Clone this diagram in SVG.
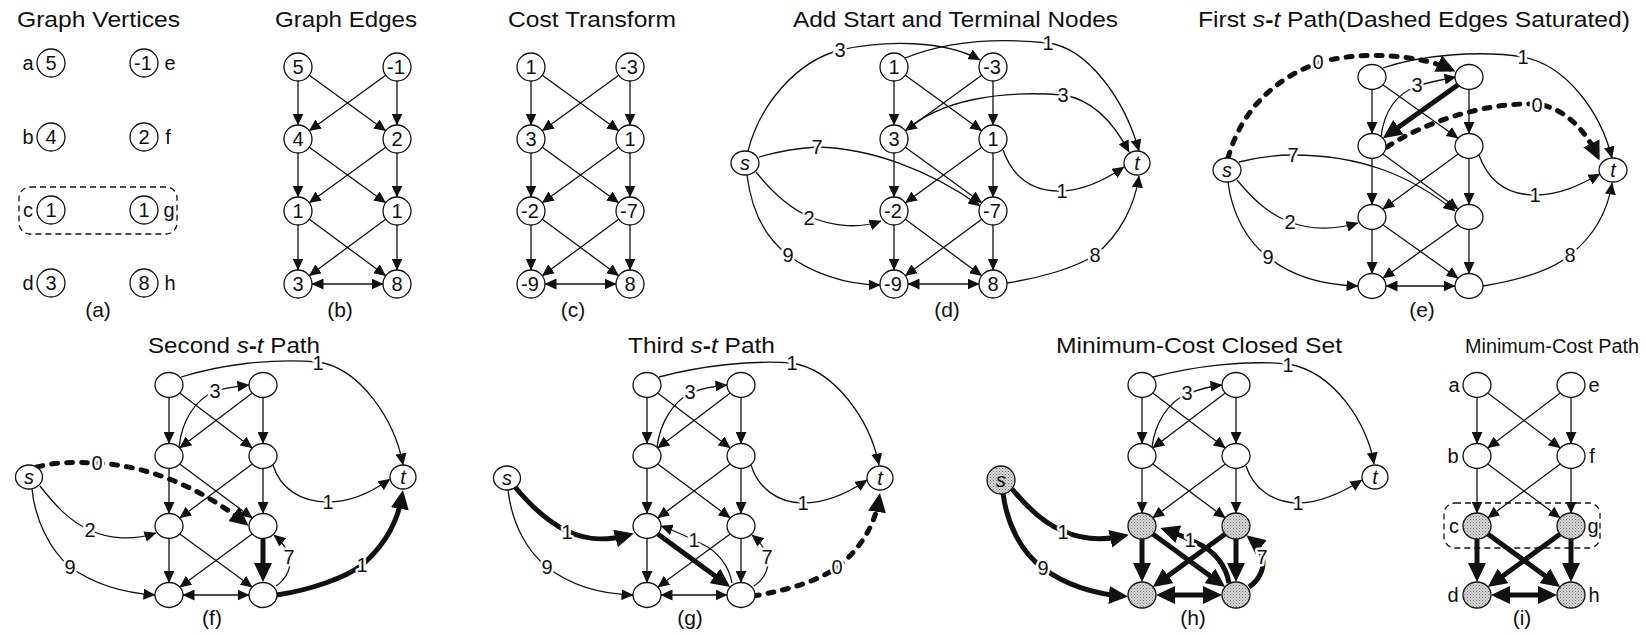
<svg xmlns="http://www.w3.org/2000/svg" width="1646" height="635" viewBox="0 0 1646 635">
<defs>
<style>
text{font-family:"Liberation Sans",Arial,sans-serif;fill:#111}
.ti{font-size:21.5px}
.pl{font-size:21px;text-anchor:middle}
.v{font-size:20px;text-anchor:middle}
.it{font-style:italic}
.el{font-size:20px;text-anchor:middle;stroke:#fff;stroke-width:5px;paint-order:stroke;stroke-linejoin:round}
.n{fill:#fff;stroke:#111;stroke-width:1.3}
.sh{fill:url(#dots);stroke:#111;stroke-width:1.3}
.e{fill:none;stroke:#111;stroke-width:1.3;marker-end:url(#ah)}
.e2{marker-start:url(#ah)}
.k{fill:none;stroke:#111;stroke-width:5;marker-end:url(#AH)}
.k2{marker-start:url(#AH)}
.dk{fill:none;stroke:#111;stroke-width:5;stroke-dasharray:6 9;stroke-linecap:round;marker-end:url(#AH)}
.box{fill:none;stroke:#111;stroke-width:1.3;stroke-dasharray:6 4}
</style>
<marker id="ah" viewBox="0 0 12 11" markerWidth="12" markerHeight="11" refX="11.5" refY="5.5" orient="auto-start-reverse" markerUnits="userSpaceOnUse"><path d="M0,0L12,5.5L0,11z" fill="#111"/></marker>
<marker id="AH" viewBox="0 0 19 18" markerWidth="19" markerHeight="18" refX="13" refY="9" orient="auto-start-reverse" markerUnits="userSpaceOnUse"><path d="M0,0L19,9L0,18z" fill="#111"/></marker>
<pattern id="dots" width="3" height="3" patternUnits="userSpaceOnUse"><rect width="3" height="3" fill="#d6d6d6"/><rect width="1" height="1" fill="#777"/><rect x="1.5" y="1.5" width="1" height="1" fill="#999"/></pattern>
</defs>
<rect width="1646" height="635" fill="#fff"/>

<!-- Titles -->
<g id="titles">
<text class="ti" x="17" y="27" textLength="163" lengthAdjust="spacingAndGlyphs">Graph Vertices</text>
<text class="ti" x="275" y="27" textLength="142" lengthAdjust="spacingAndGlyphs">Graph Edges</text>
<text class="ti" x="508" y="27" textLength="168" lengthAdjust="spacingAndGlyphs">Cost Transform</text>
<text class="ti" x="793" y="27" textLength="325" lengthAdjust="spacingAndGlyphs">Add Start and Terminal Nodes</text>
<text class="ti" x="1198" y="27" textLength="432" lengthAdjust="spacingAndGlyphs">First <tspan class="it">s</tspan><tspan font-weight="bold">-</tspan><tspan class="it">t</tspan> Path(Dashed Edges Saturated)</text>
<text class="ti" x="148" y="353" textLength="172" lengthAdjust="spacingAndGlyphs">Second <tspan class="it">s</tspan><tspan font-weight="bold">-</tspan><tspan class="it">t</tspan> Path</text>
<text class="ti" x="628" y="353" textLength="147" lengthAdjust="spacingAndGlyphs">Third <tspan class="it">s</tspan><tspan font-weight="bold">-</tspan><tspan class="it">t</tspan> Path</text>
<text class="ti" x="1056" y="353" textLength="286" lengthAdjust="spacingAndGlyphs">Minimum-Cost Closed Set</text>
<text x="1465" y="353" font-size="20" textLength="174" lengthAdjust="spacingAndGlyphs">Minimum-Cost Path</text>
<text class="pl" x="98" y="317">(a)</text>
<text class="pl" x="340" y="317">(b)</text>
<text class="pl" x="573" y="317">(c)</text>
<text class="pl" x="947" y="317">(d)</text>
<text class="pl" x="1422" y="317">(e)</text>
<text class="pl" x="212" y="625">(f)</text>
<text class="pl" x="690" y="625">(g)</text>
<text class="pl" x="1193" y="625">(h)</text>
<text class="pl" x="1522" y="625">(i)</text>
</g>

<!-- ============ CONNECTORS ============ -->
<g id="connectors">
 <!-- (b) -->
 <g id="edges-b" transform="translate(298,67)">
  <path class="e" d="M0,14V58"/><path class="e" d="M0,86V130"/><path class="e" d="M0,158V203"/>
  <path class="e" d="M99,14V58"/><path class="e" d="M99,86V130"/><path class="e" d="M99,158V203"/>
  <path class="e" d="M11.3,8.2L87.7,63.8"/><path class="e" d="M87.7,8.2L11.3,63.8"/>
  <path class="e" d="M11.3,80.2L87.7,135.8"/><path class="e" d="M87.7,80.2L11.3,135.8"/>
  <path class="e" d="M11.3,152.3L87.7,208.7"/><path class="e" d="M87.7,152.3L11.3,208.7"/>
  <path class="e e2" d="M14,217H85"/>
 </g>
 <!-- (c) -->
 <g id="edges-c" transform="translate(531,67)">
  <path class="e" d="M0,14V58"/><path class="e" d="M0,86V130"/><path class="e" d="M0,158V203"/>
  <path class="e" d="M99,14V58"/><path class="e" d="M99,86V130"/><path class="e" d="M99,158V203"/>
  <path class="e" d="M11.3,8.2L87.7,63.8"/><path class="e" d="M87.7,8.2L11.3,63.8"/>
  <path class="e" d="M11.3,80.2L87.7,135.8"/><path class="e" d="M87.7,80.2L11.3,135.8"/>
  <path class="e" d="M11.3,152.3L87.7,208.7"/><path class="e" d="M87.7,152.3L11.3,208.7"/>
  <path class="e e2" d="M14,217H85"/>
 </g>
 <!-- (d) -->
 <g id="edges-d">
  <g transform="translate(894,67)">
  <path class="e" d="M0,14V58"/><path class="e" d="M0,86V130"/><path class="e" d="M0,158V203"/>
  <path class="e" d="M99,14V58"/><path class="e" d="M99,86V130"/><path class="e" d="M99,158V203"/>
  <path class="e" d="M11.3,8.2L87.7,63.8"/><path class="e" d="M87.7,8.2L11.3,63.8"/>
  <path class="e" d="M11.3,80.2L87.7,135.8"/><path class="e" d="M87.7,80.2L11.3,135.8"/>
  <path class="e" d="M11.3,152.3L87.7,208.7"/><path class="e" d="M87.7,152.3L11.3,208.7"/>
  <path class="e e2" d="M14,217H85"/>
  </g>
  <path class="e" d="M748,151C760,105 795,62 840,50C885,40 945,40 980,60"/>
  <path class="e" d="M905,58C950,40 1000,38 1048,43C1088,48 1125,100 1139,151"/>
  <path class="e" d="M905,131C940,100 1000,90 1063,95C1095,100 1115,125 1129,152"/>
  <path class="e" d="M759,157C780,151 800,148 817,147C870,148 930,170 980,206"/>
  <path class="e" d="M756,172C772,192 790,208 808,216C835,228 862,228 881,221"/>
  <path class="e" d="M747,175C752,215 768,240 788,255C810,272 845,285 880,285"/>
  <path class="e" d="M1003,150C1012,175 1030,192 1062,191C1085,190 1105,180 1124,167"/>
  <path class="e" d="M1007,283C1040,278 1075,268 1095,255C1120,235 1135,205 1139,176"/>
  <text class="el" x="840" y="57">3</text>
  <text class="el" x="1048" y="50">1</text>
  <text class="el" x="1063" y="102">3</text>
  <text class="el" x="817" y="154">7</text>
  <text class="el" x="809" y="225">2</text>
  <text class="el" x="788" y="262">9</text>
  <text class="el" x="1062" y="198">1</text>
  <text class="el" x="1095" y="262">8</text>
 </g>
 <!-- (e) -->
 <g id="edges-e">
  <g transform="translate(1372,77)">
  <path class="e" d="M0,12.5V56.5"/><path class="e" d="M0,81.5V127.5"/><path class="e" d="M0,152.5V196.5"/>
  <path class="e" d="M97,12.5V56.5"/><path class="e" d="M97,81.5V127.5"/><path class="e" d="M97,152.5V196.5"/>
  <path class="e" d="M10.9,7.8L86.1,61.2"/>
  <path class="k" d="M86.1,7.8L15.8,57.7"/>
  <path class="e" d="M10.8,76.9L86.2,132.1"/><path class="e" d="M86.2,76.9L10.8,132.1"/>
  <path class="e" d="M10.9,147.8L86.1,201.2"/><path class="e" d="M86.1,147.8L10.9,201.2"/>
  <path class="e e2" d="M14,209H83"/>
  </g>
  <path class="dk" d="M1228,158C1240,115 1270,80 1318,63C1360,50 1420,55 1450,69"/>
  <path class="e" d="M1383,68C1420,55 1480,50 1523,57C1565,65 1600,110 1612,158"/>
  <path class="e" d="M1381,137C1384,112 1396,94 1417,86C1430,82 1445,79 1456,77"/>
  <path class="dk" d="M1387,147C1420,125 1480,102 1537,104C1565,108 1585,130 1597,155"/>
  <path class="e" d="M1239,162C1255,158 1275,155 1293,155C1360,155 1410,175 1455,211"/>
  <path class="e" d="M1237,180C1252,198 1268,214 1290,222C1310,230 1335,230 1358,223"/>
  <path class="e" d="M1228,182C1232,215 1248,242 1268,257C1290,275 1320,285 1358,286"/>
  <path class="e" d="M1479,155C1488,180 1505,195 1535,195C1560,195 1580,185 1600,174"/>
  <path class="e" d="M1483,286C1520,280 1552,270 1570,255C1595,235 1608,210 1612,183"/>
  <text class="el" x="1318" y="69">0</text>
  <text class="el" x="1523" y="64">1</text>
  <text class="el" x="1417" y="92">3</text>
  <text class="el" x="1537" y="112">0</text>
  <text class="el" x="1293" y="162">7</text>
  <text class="el" x="1290" y="229">2</text>
  <text class="el" x="1268" y="264">9</text>
  <text class="el" x="1535" y="202">1</text>
  <text class="el" x="1570" y="262">8</text>
 </g>
 <!-- (f) -->
 <g id="edges-f">
  <g transform="translate(169,385)">
  <path class="e" d="M0,12.5V58.5"/><path class="e" d="M0,83.5V128.5"/><path class="e" d="M0,153.5V197.5"/>
  <path class="e" d="M94,12.5V58.5"/><path class="e" d="M94,83.5V128.5"/>
  <path class="e" d="M10.7,8.1L83.3,62.9"/><path class="e" d="M83.3,8.1L10.7,62.9"/>
  <path class="e" d="M10.7,79L83.3,133"/><path class="e" d="M83.3,79L10.7,133"/>
  <path class="e" d="M10.8,148.9L83.2,202.1"/><path class="e" d="M83.2,148.9L10.8,202.1"/>
  <path class="e e2" d="M14,210H80"/>
  <path class="k" d="M94,154V191"/>
  </g>
  <path class="e" d="M181,377C220,365 270,358 318,362C360,368 395,420 403,465"/>
  <path class="e" d="M179,447C182,420 195,400 215,391C228,387 240,386 249,385"/>
  <path class="dk" d="M37,467C55,462 75,462 97,463C150,466 200,488 244,522"/>
  <path class="e" d="M40,486C55,505 70,522 90,530C110,540 135,540 156,533"/>
  <path class="e" d="M32,489C35,520 50,550 70,567C95,585 125,593 155,595"/>
  <path class="e" d="M273,465C280,488 300,502 328,502C350,502 372,492 390,479"/>
  <path class="k" d="M277,595C310,590 345,578 362,565C385,545 398,520 402,496"/>
  <path class="e" d="M276,586C288,578 292,565 289,556C286,546 280,540 274,535"/>
  <text class="el" x="318" y="370">1</text>
  <text class="el" x="215" y="398">3</text>
  <text class="el" x="97" y="470">0</text>
  <text class="el" x="90" y="537">2</text>
  <text class="el" x="70" y="574">9</text>
  <text class="el" x="328" y="509">1</text>
  <text class="el" x="362" y="572">1</text>
  <text class="el" x="289" y="564">7</text>
 </g>
 <!-- (g) -->
 <g id="edges-g">
  <g transform="translate(647,385)">
  <path class="e" d="M0,12.5V58.5"/><path class="e" d="M0,83.5V128.5"/><path class="e" d="M0,153.5V197.5"/>
  <path class="e" d="M94,12.5V58.5"/><path class="e" d="M94,83.5V128.5"/><path class="e" d="M94,153.5V197.5"/>
  <path class="e" d="M10.7,8.1L83.3,62.9"/><path class="e" d="M83.3,8.1L10.7,62.9"/>
  <path class="e" d="M10.7,79L83.3,133"/><path class="e" d="M83.3,79L10.7,133"/>
  <path class="k" d="M10.8,148.9L78.4,198.5"/><path class="e" d="M83.2,148.9L10.8,202.1"/>
  <path class="e e2" d="M14,210H80"/>
  </g>
  <path class="e" d="M659,377C700,366 750,360 792,363C835,370 870,420 879,465"/>
  <path class="e" d="M657,447C660,423 673,402 690,393C703,388 715,386 727,385"/>
  <path class="k" d="M515,487C530,505 548,522 567,531C590,542 610,540 628,535"/>
  <path class="e" d="M508,490C512,525 528,552 547,567C570,585 600,594 633,595"/>
  <path class="e" d="M751,465C758,488 778,503 803,503C825,503 848,493 867,480"/>
  <path class="dk" d="M753,596C790,590 820,580 837,567C860,550 875,525 879,499"/>
  <path class="e" d="M732,583C729,566 718,551 700,543C688,537 675,531 661,526"/>
  <path class="e" d="M754,586C766,578 770,565 767,556C764,546 758,540 752,535"/>
  <text class="el" x="792" y="370">1</text>
  <text class="el" x="690" y="399">3</text>
  <text class="el" x="567" y="539">1</text>
  <text class="el" x="547" y="574">9</text>
  <text class="el" x="803" y="510">1</text>
  <text class="el" x="837" y="574">0</text>
  <text class="el" x="694" y="547">1</text>
  <text class="el" x="767" y="564">7</text>
 </g>
 <!-- (h) -->
 <g id="edges-h">
  <g transform="translate(1142,385)">
  <path class="e" d="M0,12.5V58.5"/><path class="e" d="M0,83.5V128"/>
  <path class="e" d="M94,12.5V58.5"/><path class="e" d="M94,83.5V128"/>
  <path class="e" d="M10.7,8.1L83.3,62.9"/><path class="e" d="M83.3,8.1L10.7,62.9"/>
  <path class="e" d="M10.7,79L83.3,133"/><path class="e" d="M83.3,79L10.7,133"/>
  <path class="k" d="M0,154V191"/><path class="k" d="M94,154V191"/>
  <path class="k" d="M10.8,148.9L78.4,198.5"/><path class="k" d="M83.2,148.9L15.6,198.5"/>
  <path class="k k2" d="M20,210H74"/>
  </g>
  <path class="e" d="M1153,377C1195,366 1245,360 1288,364C1335,372 1368,425 1374,464"/>
  <path class="e" d="M1152,447C1155,423 1168,402 1187,394C1200,389 1212,386 1222,385"/>
  <path class="e" d="M1246,466C1253,488 1273,503 1298,503C1320,503 1343,492 1362,480"/>
  <path class="k" d="M1012,489C1027,507 1045,524 1063,531C1085,541 1105,540 1123,536"/>
  <path class="k" d="M1003,493C1007,525 1022,553 1043,568C1065,585 1095,594 1122,596"/>
  <path class="k" d="M1229,583C1226,566 1215,551 1197,543C1185,537 1175,533 1166,530"/>
  <path class="k" d="M1249,587C1261,579 1265,566 1262,556C1260,548 1256,543 1251,539"/>
  <text class="el" x="1288" y="372">1</text>
  <text class="el" x="1187" y="400">3</text>
  <text class="el" x="1298" y="510">1</text>
  <text class="el" x="1063" y="539">1</text>
  <text class="el" x="1043" y="575">9</text>
  <text class="el" x="1190" y="547">1</text>
  <text class="el" x="1262" y="564">7</text>
 </g>
 <!-- (i) -->
 <g id="edges-i" transform="translate(1477,385)">
  <path class="e" d="M0,12.5V58.5"/><path class="e" d="M0,83.5V128"/>
  <path class="e" d="M94,12.5V58.5"/><path class="e" d="M94,83.5V128"/>
  <path class="e" d="M10.7,8.1L83.3,62.9"/><path class="e" d="M83.3,8.1L10.7,62.9"/>
  <path class="e" d="M10.7,79L83.3,133"/><path class="e" d="M83.3,79L10.7,133"/>
  <path class="k" d="M0,154V191"/><path class="k" d="M94,154V191"/>
  <path class="k" d="M10.8,148.9L78.4,198.5"/><path class="k" d="M83.2,148.9L15.6,198.5"/>
  <path class="k k2" d="M20,210H74"/>
 </g>
</g>

<!-- ============ NODES ============ -->
<!-- (a) -->
<g id="panel-a">
 <rect class="box" x="19" y="187" width="158" height="47" rx="11"/>
 <g id="a-a"><circle class="n" cx="51" cy="63" r="14"/><text class="v" x="51" y="70">5</text><text class="v" x="28" y="70">a</text></g>
 <g id="a-e"><circle class="n" cx="144" cy="63" r="14"/><text class="v" x="143" y="70">-1</text><text class="v" x="170" y="70">e</text></g>
 <g id="a-b"><circle class="n" cx="51" cy="137" r="14"/><text class="v" x="51" y="144">4</text><text class="v" x="28" y="144">b</text></g>
 <g id="a-f"><circle class="n" cx="144" cy="137" r="14"/><text class="v" x="144" y="144">2</text><text class="v" x="168" y="144">f</text></g>
 <g id="a-c"><circle class="n" cx="51" cy="210" r="14"/><text class="v" x="51" y="217">1</text><text class="v" x="28" y="217">c</text></g>
 <g id="a-g"><circle class="n" cx="144" cy="210" r="14"/><text class="v" x="144" y="217">1</text><text class="v" x="169" y="217">g</text></g>
 <g id="a-d"><circle class="n" cx="51" cy="283" r="14"/><text class="v" x="51" y="290">3</text><text class="v" x="28" y="290">d</text></g>
 <g id="a-h"><circle class="n" cx="144" cy="283" r="14"/><text class="v" x="144" y="290">8</text><text class="v" x="170" y="290">h</text></g>
</g>
<!-- (b) -->
<g id="panel-b">
 <g id="b-a"><circle class="n" cx="298" cy="67" r="14"/><text class="v" x="298" y="74">5</text></g>
 <g id="b-e"><circle class="n" cx="397" cy="67" r="14"/><text class="v" x="396" y="74">-1</text></g>
 <g id="b-b"><circle class="n" cx="298" cy="139" r="14"/><text class="v" x="298" y="146">4</text></g>
 <g id="b-f"><circle class="n" cx="397" cy="139" r="14"/><text class="v" x="397" y="146">2</text></g>
 <g id="b-c"><circle class="n" cx="298" cy="211" r="14"/><text class="v" x="298" y="218">1</text></g>
 <g id="b-g"><circle class="n" cx="397" cy="211" r="14"/><text class="v" x="397" y="218">1</text></g>
 <g id="b-d"><circle class="n" cx="298" cy="284" r="14"/><text class="v" x="298" y="291">3</text></g>
 <g id="b-h"><circle class="n" cx="397" cy="284" r="14"/><text class="v" x="397" y="291">8</text></g>
</g>
<!-- (c) -->
<g id="panel-c">
 <g id="c-a"><circle class="n" cx="531" cy="67" r="14"/><text class="v" x="531" y="74">1</text></g>
 <g id="c-e"><circle class="n" cx="630" cy="67" r="14"/><text class="v" x="629" y="74">-3</text></g>
 <g id="c-b"><circle class="n" cx="531" cy="139" r="14"/><text class="v" x="531" y="146">3</text></g>
 <g id="c-f"><circle class="n" cx="630" cy="139" r="14"/><text class="v" x="630" y="146">1</text></g>
 <g id="c-c"><circle class="n" cx="531" cy="211" r="14"/><text class="v" x="530" y="218">-2</text></g>
 <g id="c-g"><circle class="n" cx="630" cy="211" r="14"/><text class="v" x="629" y="218">-7</text></g>
 <g id="c-d"><circle class="n" cx="531" cy="284" r="14"/><text class="v" x="530" y="291">-9</text></g>
 <g id="c-h"><circle class="n" cx="630" cy="284" r="14"/><text class="v" x="630" y="291">8</text></g>
</g>
<!-- (d) -->
<g id="panel-d">
 <g id="d-s"><ellipse class="n" cx="745" cy="163" rx="14" ry="12"/><text class="v it" x="745" y="170">s</text></g>
 <g id="d-t"><ellipse class="n" cx="1137" cy="163" rx="13" ry="12"/><text class="v it" x="1137" y="170">t</text></g>
 <g id="d-a"><circle class="n" cx="894" cy="67" r="14"/><text class="v" x="894" y="74">1</text></g>
 <g id="d-e"><circle class="n" cx="993" cy="67" r="14"/><text class="v" x="992" y="74">-3</text></g>
 <g id="d-b"><circle class="n" cx="894" cy="139" r="14"/><text class="v" x="894" y="146">3</text></g>
 <g id="d-f"><circle class="n" cx="993" cy="139" r="14"/><text class="v" x="993" y="146">1</text></g>
 <g id="d-c"><circle class="n" cx="894" cy="211" r="14"/><text class="v" x="893" y="218">-2</text></g>
 <g id="d-g"><circle class="n" cx="993" cy="211" r="14"/><text class="v" x="992" y="218">-7</text></g>
 <g id="d-d"><circle class="n" cx="894" cy="284" r="14"/><text class="v" x="893" y="291">-9</text></g>
 <g id="d-h"><circle class="n" cx="993" cy="284" r="14"/><text class="v" x="993" y="291">8</text></g>
</g>
<!-- (e) -->
<g id="panel-e">
 <g id="e-s"><ellipse class="n" cx="1227" cy="170" rx="14" ry="12"/><text class="v it" x="1227" y="177">s</text></g>
 <g id="e-t"><ellipse class="n" cx="1613" cy="170" rx="14" ry="12"/><text class="v it" x="1613" y="177">t</text></g>
 <g id="e-a"><ellipse class="n" cx="1372" cy="77" rx="14" ry="12.5"/></g>
 <g id="e-e"><ellipse class="n" cx="1469" cy="77" rx="14" ry="12.5"/></g>
 <g id="e-b"><ellipse class="n" cx="1372" cy="146" rx="14" ry="12.5"/></g>
 <g id="e-f"><ellipse class="n" cx="1469" cy="146" rx="14" ry="12.5"/></g>
 <g id="e-c"><ellipse class="n" cx="1372" cy="217" rx="14" ry="12.5"/></g>
 <g id="e-g"><ellipse class="n" cx="1469" cy="217" rx="14" ry="12.5"/></g>
 <g id="e-d"><ellipse class="n" cx="1372" cy="286" rx="14" ry="12.5"/></g>
 <g id="e-h"><ellipse class="n" cx="1469" cy="286" rx="14" ry="12.5"/></g>
</g>
<!-- (f) -->
<g id="panel-f">
 <g id="f-s"><ellipse class="n" cx="29" cy="477" rx="13.5" ry="12"/><text class="v it" x="29" y="484">s</text></g>
 <g id="f-t"><ellipse class="n" cx="403" cy="477" rx="13" ry="12"/><text class="v it" x="403" y="484">t</text></g>
 <g id="f-a"><ellipse class="n" cx="169" cy="385" rx="14" ry="12.5"/></g>
 <g id="f-e"><ellipse class="n" cx="263" cy="385" rx="14" ry="12.5"/></g>
 <g id="f-b"><ellipse class="n" cx="169" cy="456" rx="14" ry="12.5"/></g>
 <g id="f-f"><ellipse class="n" cx="263" cy="456" rx="14" ry="12.5"/></g>
 <g id="f-c"><ellipse class="n" cx="169" cy="526" rx="14" ry="12.5"/></g>
 <g id="f-g"><ellipse class="n" cx="263" cy="526" rx="14" ry="12.5"/></g>
 <g id="f-d"><ellipse class="n" cx="169" cy="595" rx="14" ry="12.5"/></g>
 <g id="f-h"><ellipse class="n" cx="263" cy="595" rx="14" ry="12.5"/></g>
</g>
<!-- (g) -->
<g id="panel-g">
 <g id="g-s"><ellipse class="n" cx="507" cy="478" rx="13.5" ry="12"/><text class="v it" x="507" y="485">s</text></g>
 <g id="g-t"><ellipse class="n" cx="880" cy="478" rx="13" ry="12"/><text class="v it" x="880" y="485">t</text></g>
 <g id="g-a"><ellipse class="n" cx="647" cy="385" rx="14" ry="12.5"/></g>
 <g id="g-e"><ellipse class="n" cx="741" cy="385" rx="14" ry="12.5"/></g>
 <g id="g-b"><ellipse class="n" cx="647" cy="456" rx="14" ry="12.5"/></g>
 <g id="g-f"><ellipse class="n" cx="741" cy="456" rx="14" ry="12.5"/></g>
 <g id="g-c"><ellipse class="n" cx="647" cy="526" rx="14" ry="12.5"/></g>
 <g id="g-g"><ellipse class="n" cx="741" cy="526" rx="14" ry="12.5"/></g>
 <g id="g-d"><ellipse class="n" cx="647" cy="595" rx="14" ry="12.5"/></g>
 <g id="g-h"><ellipse class="n" cx="741" cy="595" rx="14" ry="12.5"/></g>
</g>
<!-- (h) -->
<g id="panel-h">
 <g id="h-s"><circle class="sh" cx="1001" cy="480" r="14"/><text class="v it" x="1001" y="487">s</text></g>
 <g id="h-t"><ellipse class="n" cx="1375" cy="477" rx="13" ry="12"/><text class="v it" x="1375" y="484">t</text></g>
 <g id="h-a"><ellipse class="n" cx="1142" cy="385" rx="14" ry="12.5"/></g>
 <g id="h-e"><ellipse class="n" cx="1236" cy="385" rx="14" ry="12.5"/></g>
 <g id="h-b"><ellipse class="n" cx="1142" cy="456" rx="14" ry="12.5"/></g>
 <g id="h-f"><ellipse class="n" cx="1236" cy="456" rx="14" ry="12.5"/></g>
 <g id="h-c"><ellipse class="sh" cx="1142" cy="526" rx="14" ry="13"/></g>
 <g id="h-g"><ellipse class="sh" cx="1236" cy="526" rx="14" ry="13"/></g>
 <g id="h-d"><ellipse class="sh" cx="1142" cy="595" rx="14" ry="13"/></g>
 <g id="h-h"><ellipse class="sh" cx="1236" cy="595" rx="14" ry="13"/></g>
</g>
<!-- (i) -->
<g id="panel-i">
 <rect class="box" x="1444" y="503" width="156" height="45" rx="11"/>
 <g id="i-a"><ellipse class="n" cx="1477" cy="385" rx="14" ry="12.5"/><text class="v" x="1454" y="392">a</text></g>
 <g id="i-e"><ellipse class="n" cx="1571" cy="385" rx="14" ry="12.5"/><text class="v" x="1594" y="392">e</text></g>
 <g id="i-b"><ellipse class="n" cx="1477" cy="456" rx="14" ry="12.5"/><text class="v" x="1453" y="463">b</text></g>
 <g id="i-f"><ellipse class="n" cx="1571" cy="456" rx="14" ry="12.5"/><text class="v" x="1592" y="463">f</text></g>
 <g id="i-c"><ellipse class="sh" cx="1477" cy="526" rx="14" ry="13"/><text class="v" x="1454" y="533">c</text></g>
 <g id="i-g"><ellipse class="sh" cx="1571" cy="526" rx="14" ry="13"/><text class="v" x="1593" y="533">g</text></g>
 <g id="i-d"><ellipse class="sh" cx="1477" cy="595" rx="14" ry="13"/><text class="v" x="1453" y="602">d</text></g>
 <g id="i-h"><ellipse class="sh" cx="1571" cy="595" rx="14" ry="13"/><text class="v" x="1594" y="602">h</text></g>
</g>
</svg>
